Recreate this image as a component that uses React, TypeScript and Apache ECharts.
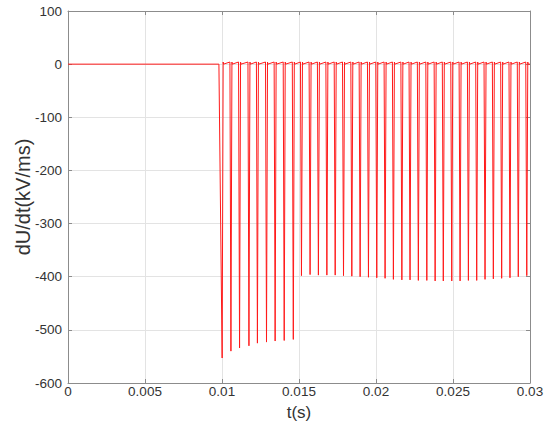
import React, { useEffect, useRef } from "react";
import * as echarts from "echarts";

// Spike minimum times (s) and depths (kV/ms)
const group1Times = [0.01001, 0.01058, 0.01114, 0.01175, 0.0123, 0.01289, 0.01345, 0.01404, 0.01463];
const group1Depths = [-553, -540, -534, -530, -525, -523, -521, -520, -518];
const group2Times = [
  0.01516, 0.01572, 0.01626, 0.01681, 0.01735, 0.01789, 0.01843, 0.01897, 0.01951, 0.02005,
  0.02059, 0.02113, 0.02168, 0.02221, 0.02275, 0.0233, 0.02384, 0.02437, 0.02492, 0.02546,
  0.026, 0.02654, 0.02708, 0.02762, 0.02816, 0.0287, 0.02924, 0.02979,
];
const group2Depths = [
  -398, -396, -397, -397, -397, -398, -399, -400, -401, -402,
  -403, -405, -406, -406, -407, -407, -408, -408, -408, -408,
  -407, -407, -405, -404, -403, -402, -400, -398,
];
const onsetTime = 0.0098;
const flatLevel = 0;
const peakLevel = 4;
const halfWidth = 0.000065;
const settle = 0.00009;
const xTicks = { min: 0, max: 0.03, interval: 0.005 };
const yTicks = { min: -600, max: 100, interval: 100 };

function buildSeries(): number[][] {
  const times = [...group1Times, ...group2Times];
  const depths = [...group1Depths, ...group2Depths];
  const pts: number[][] = [
    [0, flatLevel],
    [onsetTime, flatLevel],
  ];
  times.forEach((t, i) => {
    if (i > 0) pts.push([t - halfWidth, peakLevel]);
    pts.push([t, depths[i]]);
    pts.push([t + halfWidth, peakLevel]);
    pts.push([t + settle, flatLevel]);
  });
  pts.push([0.03, flatLevel]);
  return pts;
}

export default function App() {
  const ref = useRef<HTMLDivElement>(null);
  useEffect(() => {
    if (!ref.current) return;
    const chart = echarts.init(ref.current, null, { renderer: "svg" });
    const axisColor = "#8c8c8c";
    const labelColor = "#333333";
    const font = "'Liberation Sans', Arial, sans-serif";
    const common = {
      axisLine: { show: true, onZero: false, lineStyle: { color: axisColor, width: 1 } },
      axisTick: { show: true, inside: true, length: 4, lineStyle: { color: axisColor } },
    };
    chart.setOption({
      animation: false,
      backgroundColor: "#ffffff",
      grid: {
        left: 68,
        right: 20,
        top: 11,
        bottom: 52,
        containLabel: false,
        outerBoundsMode: "none",
      },
      xAxis: [
        {
          type: "value",
          ...xTicks,
          position: "bottom",
          ...common,
          axisLabel: { color: labelColor, fontSize: 13.5, fontFamily: font, margin: 1 },
          splitLine: { show: true, lineStyle: { color: "#e3e3e3", width: 1 } },
          name: "t(s)",
          nameLocation: "middle",
          nameGap: 21,
          nameMoveOverlap: false,
          nameTextStyle: { color: labelColor, fontSize: 17, fontFamily: font },
        },
        {
          type: "value",
          ...xTicks,
          position: "top",
          ...common,
          axisLabel: { show: false },
          splitLine: { show: false },
        },
      ],
      yAxis: [
        {
          type: "value",
          ...yTicks,
          position: "left",
          ...common,
          axisLabel: { color: labelColor, fontSize: 13.5, fontFamily: font, margin: 6 },
          splitLine: { show: true, lineStyle: { color: "#e3e3e3", width: 1 } },
          name: "dU/dt(kV/ms)",
          nameLocation: "middle",
          nameGap: 35,
          nameMoveOverlap: false,
          nameRotate: 90,
          nameTextStyle: { color: labelColor, fontSize: 20, fontFamily: font },
        },
        {
          type: "value",
          ...yTicks,
          position: "right",
          ...common,
          axisLabel: { show: false },
          splitLine: { show: false },
        },
      ],
      series: [
        {
          type: "line",
          data: buildSeries(),
          showSymbol: false,
          symbol: "none",
          lineStyle: { color: "#ff1a1a", width: 1 },
          xAxisIndex: 0,
          yAxisIndex: 0,
        },
      ],
    });
    return () => chart.dispose();
  }, []);
  return (
    <div
      ref={ref}
      style={{ position: "absolute", left: 0, top: 0, width: 550, height: 435 }}
    />
  );
}
